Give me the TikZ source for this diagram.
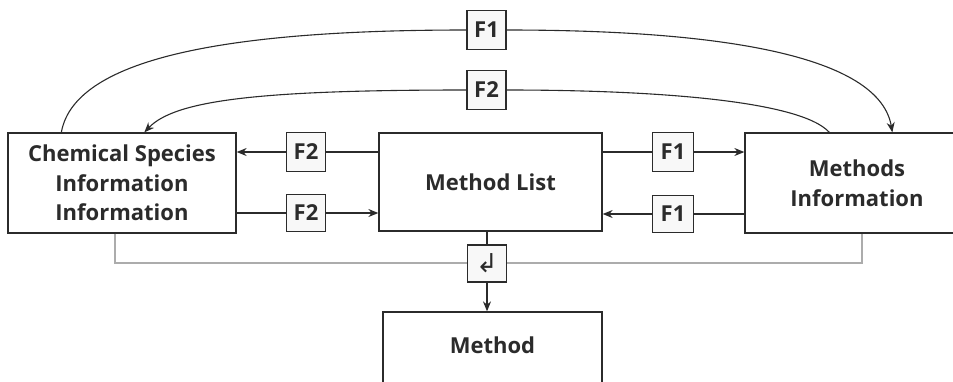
\documentclass[tikz,border=0pt]{standalone}
\usepackage{fontspec}
\setmainfont{Open Sans}
\newfontfamily\symfont{DejaVu Sans}
\usetikzlibrary{arrows.meta,calc,positioning}
\definecolor{ink}{HTML}{2B2B2B}
\definecolor{tagfill}{HTML}{F8F8F8}
\tikzset{
  blk/.style={draw=ink,line width=1.3pt,fill=white,minimum height=100pt,align=center,
    font=\bfseries\fontsize{22}{29.5}\selectfont,text=ink,inner sep=0pt},
  tag/.style={draw=ink,line width=1.3pt,fill=tagfill,minimum width=39pt,minimum height=39pt,
    inner sep=0pt,font=\bfseries\fontsize{22}{22}\selectfont,text=ink},
  flow/.style={draw=ink,line width=1.1pt},
  tip/.style={-{Stealth[length=10pt,width=8pt]}}
}

\begin{document}
\begin{tikzpicture}[x=1pt,y=-1pt]
  \useasboundingbox (0,0) rectangle (953,381);
  \clip (0,0) rectangle (953,381);
  % main blocks
  \node[blk,minimum width=228pt] (chem) at (122,183) {Chemical Species\\Information\\Information};
  \node[blk,minimum width=223pt,minimum height=98pt] (list) at (490.5,182) {Method List};
  \node[blk,minimum width=224pt] (meth) at (857,183) {Methods\\Information};
  \node[blk,minimum width=219pt] (method) at (492.5,362) {};
  \node[font=\bfseries\fontsize{22}{29}\selectfont,text=ink] (methodlbl) at (492.5,345) {Method};
  % side flows
  \node[tag] (f2a) at (306,152) {F2};
  \node[tag,minimum height=37pt] (f2b) at (306,213) {F2};
  \node[tag,minimum width=41pt] (f1a) at (673,152) {F1};
  \node[tag,minimum width=41pt,minimum height=37pt] (f1b) at (673,214) {F1};
  \draw[flow] (list.west |- f2a) -- (f2a);
  \draw[flow,tip] (f2a) -- (chem.east |- f2a);
  \draw[flow] (chem.east |- f2b) -- (f2b);
  \draw[flow,tip] (f2b) -- (list.west |- f2b);
  \draw[flow] (list.east |- f1a) -- (f1a);
  \draw[flow,tip] (f1a) -- (meth.west |- f1a);
  \draw[flow] (meth.west |- f1b) -- (f1b);
  \draw[flow,tip] (f1b) -- (list.east |- f1b);
  % top arcs
  \node[tag] (f1top) at (486.5,30) {F1};
  \node[tag] (f2top) at (486.5,90) {F2};
  \coordinate (c1) at ($(chem.north west)+(54,0)$);
  \coordinate (c2) at ($(chem.north west)+(137,0)$);
  \coordinate (m1) at ($(meth.north west)+(148,0)$);
  \coordinate (m2) at ($(meth.north west)+(85,0)$);
  \draw[flow] (c1) .. controls (75,55) and (240,30) .. (f1top.west);
  \draw[flow,tip] (f1top.east) .. controls (740,30) and (880,60) .. (m1);
  \draw[flow] (m2) .. controls (800,100) and (650,90) .. (f2top.east);
  \draw[flow,tip] (f2top.west) .. controls (260,90) and (175,100) .. (c2);
  % return path
  \coordinate (g1) at ($(chem.south west)+(108,29)$);
  \coordinate (g2) at ($(meth.south west)+(118,29)$);
  \draw[gray!65,line width=2.2pt] ($(chem.south west)+(108,0)$) -- (g1) -- (g2) -- ($(meth.south west)+(118,0)$);
  \node[tag,minimum height=37pt,font=\symfont\fontsize{26}{26}\selectfont] (ret) at (487,263.5) {↲};
  \draw[flow] (list.south -| ret) -- (ret);
  \draw[flow,tip] (ret) -- (method.north -| ret);
\end{tikzpicture}
\end{document}
